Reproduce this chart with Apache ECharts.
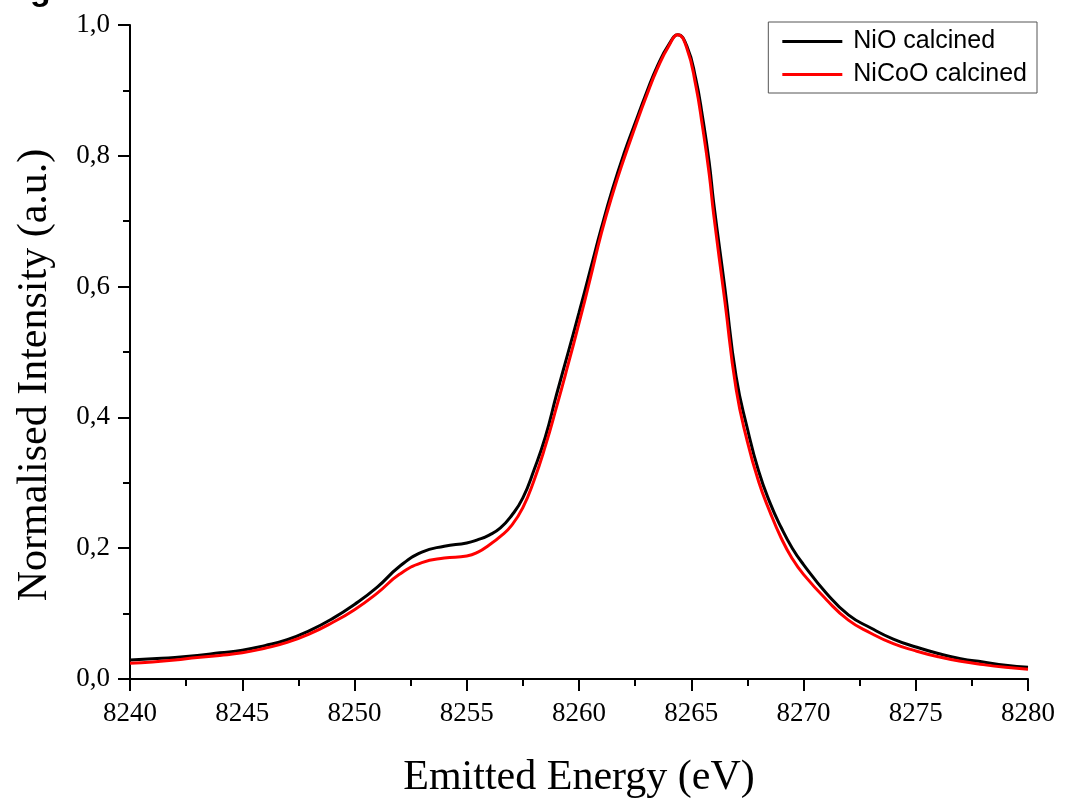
<!DOCTYPE html>
<html>
<head>
    <meta charset="utf-8" />
    <script src="https://cdn.jsdelivr.net/npm/echarts@6/dist/echarts.min.js"></script>
    <style>
        body { margin: 0; background: #fff; }
        #main { width: 1065px; height: 798px; }
    </style>
</head>
<body>
    <div id="main"></div>
    <script>
        // Emitted energy (eV) sampling points
        var energy = [
            8240, 8241, 8242, 8243, 8244, 8245, 8246, 8247, 8248, 8249,
            8250, 8251, 8252, 8253, 8254, 8255, 8255.5, 8256, 8256.5, 8257,
            8257.5, 8258, 8258.5, 8259, 8259.5, 8260, 8260.5, 8261, 8261.5, 8262,
            8262.5, 8263, 8263.5, 8264, 8264.4, 8264.8, 8265.2, 8265.5, 8265.8, 8266,
            8266.5, 8267, 8267.5, 8268, 8268.5, 8269, 8269.5, 8270, 8271, 8272,
            8273, 8274, 8275, 8276, 8277, 8278, 8279, 8280
        ];
        // NiO calcined
        var nio = [
            0.029, 0.031, 0.033, 0.036, 0.040, 0.044, 0.051, 0.060, 0.074, 0.092,
            0.114, 0.140, 0.172, 0.194, 0.203, 0.208, 0.213, 0.220, 0.231, 0.250,
            0.277, 0.320, 0.370, 0.435, 0.497, 0.560, 0.625, 0.690, 0.750, 0.803,
            0.850, 0.896, 0.938, 0.970, 0.985, 0.968, 0.918, 0.860, 0.790, 0.728,
            0.597, 0.462, 0.383, 0.318, 0.270, 0.232, 0.200, 0.175, 0.132, 0.098,
            0.078, 0.061, 0.049, 0.039, 0.031, 0.026, 0.021, 0.018
        ];
        // NiCoO calcined
        var nicoo = [
            0.024, 0.026, 0.029, 0.033, 0.036, 0.040, 0.047, 0.056, 0.069, 0.086,
            0.106, 0.131, 0.160, 0.178, 0.185, 0.188, 0.194, 0.205, 0.218, 0.235,
            0.262, 0.304, 0.356, 0.416, 0.479, 0.544, 0.612, 0.682, 0.742, 0.795,
            0.844, 0.891, 0.934, 0.968, 0.985, 0.965, 0.908, 0.845, 0.772, 0.710,
            0.577, 0.443, 0.363, 0.302, 0.256, 0.216, 0.184, 0.160, 0.122, 0.090,
            0.070, 0.054, 0.043, 0.034, 0.027, 0.022, 0.018, 0.015
        ];

        function pairs(xs, ys) {
            var out = []
            for (var i = 0; i < xs.length; i++) {
                out.push([xs[i], ys[i]])
            }
            return out
        }

        var serif = 'Liberation Serif'

        var option = {
            animation: false,
            backgroundColor: '#fff',
            grid: {
                left: 130,
                right: 37,
                top: 25,
                bottom: 119,
                outerBoundsMode: 'none'
            },
            legend: {
                orient: 'vertical',
                right: 28,
                top: 22,
                itemWidth: 60,
                itemHeight: 14,
                itemGap: 8,
                padding: [7, 10, 6, 14],
                borderColor: '#555',
                borderWidth: 1,
                icon: 'path://M0,5.5 L60,5.5 L60,8.5 L0,8.5 Z',
                textStyle: {
                    fontFamily: 'Liberation Sans',
                    fontSize: 25,
                    color: '#000',
                    padding: [0, 0, 0, 6]
                },
                data: ['NiO calcined', 'NiCoO calcined']
            },
            xAxis: {
                type: 'value',
                min: 8240,
                max: 8280,
                interval: 5,
                name: 'Emitted Energy (eV)',
                nameLocation: 'middle',
                nameGap: 78,
                nameTextStyle: {
                    fontFamily: serif,
                    fontSize: 42,
                    color: '#000'
                },
                axisLine: { lineStyle: { color: '#000', width: 2 } },
                axisTick: { show: true, inside: false, length: 12, lineStyle: { color: '#000', width: 2 } },
                minorTick: { show: true, splitNumber: 2, length: 7, lineStyle: { color: '#000', width: 2 } },
                axisLabel: {
                    fontFamily: serif,
                    fontSize: 27,
                    color: '#000',
                    margin: 21,
                    formatter: function (v) {
                        return String(v)
                    }
                },
                splitLine: { show: false }
            },
            yAxis: {
                type: 'value',
                min: 0,
                max: 1,
                interval: 0.2,
                name: 'Normalised Intensity (a.u.)',
                nameLocation: 'middle',
                nameGap: 74,
                nameTextStyle: {
                    fontFamily: serif,
                    fontSize: 42,
                    color: '#000',
                    padding: [0, 46, 0, 0]
                },
                axisLine: { show: true, lineStyle: { color: '#000', width: 2 } },
                axisTick: { show: true, inside: false, length: 12, lineStyle: { color: '#000', width: 2 } },
                minorTick: { show: true, splitNumber: 2, length: 7, lineStyle: { color: '#000', width: 2 } },
                axisLabel: {
                    fontFamily: serif,
                    fontSize: 27,
                    color: '#000',
                    margin: 20,
                    formatter: function (v) {
                        return v.toFixed(1).replace('.', ',')
                    }
                },
                splitLine: { show: false }
            },
            graphic: [
                {
                    type: 'text',
                    left: 30,
                    top: -26,
                    style: {
                        text: 'g',
                        fontFamily: 'Liberation Sans',
                        fontWeight: 'bold',
                        fontSize: 34,
                        fill: '#000'
                    }
                }
            ],
            series: [
                {
                    name: 'NiO calcined',
                    type: 'line',
                    data: pairs(energy, nio),
                    smooth: 0.5,
                    symbol: 'none',
                    lineStyle: { color: '#000', width: 3 },
                    itemStyle: { color: '#000' }
                },
                {
                    name: 'NiCoO calcined',
                    type: 'line',
                    data: pairs(energy, nicoo),
                    smooth: 0.5,
                    symbol: 'none',
                    lineStyle: { color: '#ff0000', width: 3 },
                    itemStyle: { color: '#ff0000' }
                }
            ]
        };

        var chart = echarts.init(document.getElementById('main'))
        chart.setOption(option)
    </script>
</body>
</html>
